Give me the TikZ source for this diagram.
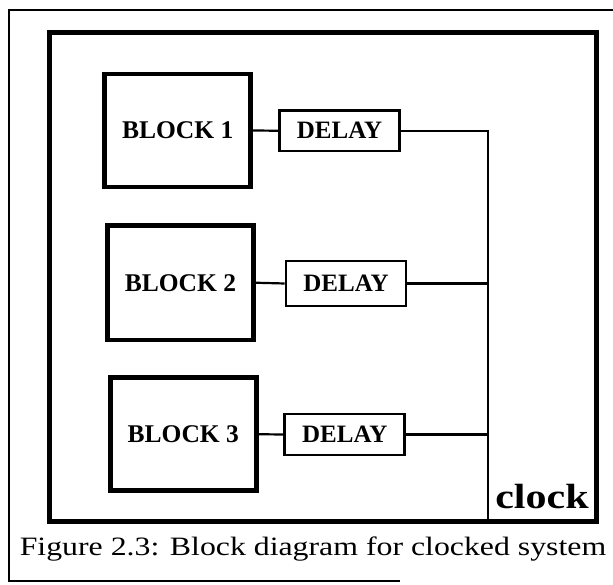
\documentclass[tikz,border=0pt]{standalone}
\usepackage{fontspec}
\setmainfont{Liberation Serif}
\newfontfamily\captionfont[FakeStretch=1.2]{Liberation Serif}
\newfontfamily\clockfont[FakeStretch=1.2]{Liberation Serif}
\usetikzlibrary{calc}

\begin{document}
\begin{tikzpicture}[x=1pt, y=1pt,
    blockbox/.style={draw, line width=4.8pt, inner sep=0pt, minimum width=146pt, minimum height=113pt, font=\fontsize{25.5}{30}\selectfont\bfseries},
    delaybox/.style={draw, line width=2.8pt, inner sep=0pt, minimum width=120pt, minimum height=42pt, font=\fontsize{25}{30}\selectfont\bfseries},
    wire/.style={line width=2.2pt}]

        \useasboundingbox (0,0) rectangle (613,585);

        % FRAMES
        \draw[line width=2pt] (616,575) -- (9,575) -- (9,3.5) -- (400,3.5);
        \draw[line width=5pt] (49.5,63) rectangle (596.5,552.5);

        % BLOCKS
        \node[blockbox] (BLOCK1) at (177.75,454.5) {BLOCK 1};
        \node[blockbox, minimum height=114.5pt] (BLOCK2) at (180.5,302.25) {BLOCK 2};
        \node[blockbox] (BLOCK3) at (183.3,150.75) {BLOCK 3};

        % DELAYS
        \node[delaybox, minimum height=40.5pt] (DELAY1) at (339.5,454.25) {DELAY};
        \node[delaybox, minimum height=45pt] (DELAY2) at (346,301.5) {DELAY};
        \node[delaybox, minimum height=41pt] (DELAY3) at (344.75,150.5) {DELAY};
        \draw[wire] (BLOCK1.east) -- (DELAY1.west);
        \draw[wire] (BLOCK2.east) -- (DELAY2.west);
        \draw[wire] (BLOCK3.east) -- (DELAY3.west);

        % CLOCK
        \coordinate (CLK) at (488,63);
        \draw[wire] (DELAY1.east) -| (CLK);
        \draw[wire] (DELAY2.east) -- (DELAY2.east -| CLK);
        \draw[wire] (DELAY3.east) -- (DELAY3.east -| CLK);
        \node[font=\clockfont\bfseries\fontsize{35}{38}\selectfont, anchor=base] (CLOCK) at (542,76) {clock};

        % CAPTION
        \node[font=\captionfont\fontsize{26.5}{30}\selectfont, anchor=base] (CAPTION) at (313,29) {Figure 2.3: Block diagram for clocked system};

\end{tikzpicture}
\end{document}
